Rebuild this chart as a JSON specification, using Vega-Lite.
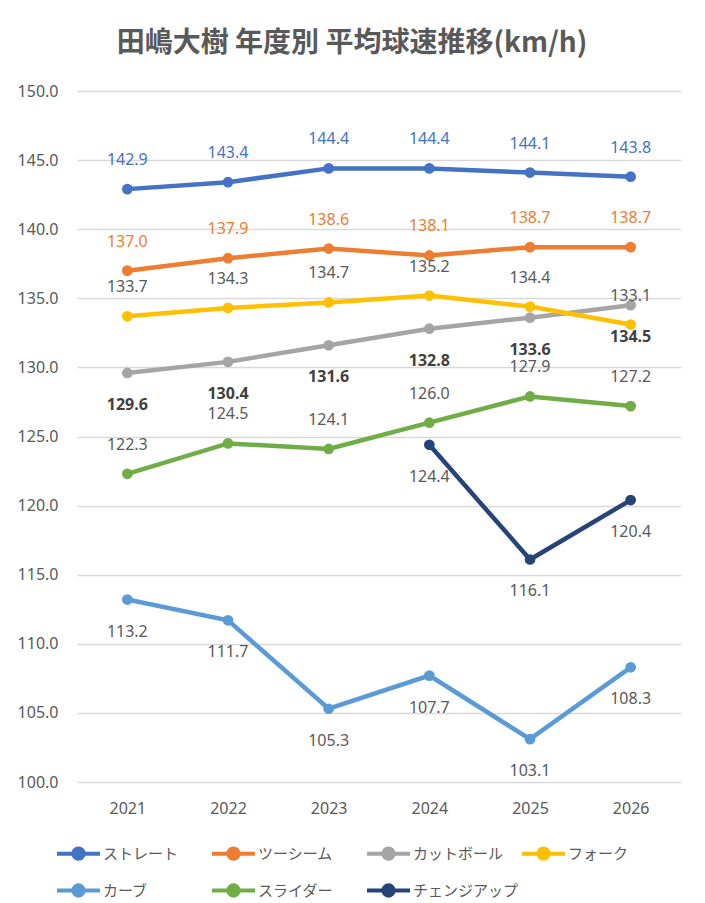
{
  "$schema": "https://vega.github.io/schema/vega-lite/v6.json",
  "autosize": "none",
  "width": 604,
  "height": 691,
  "padding": {"left": 77, "top": 91, "right": 24, "bottom": 121},
  "background": "white",
  "title": {
    "text": "田嶋大樹 年度別 平均球速推移(km/h)",
    "font": "Noto Sans CJK JP",
    "fontSize": 28,
    "fontWeight": "bold",
    "color": "#595959",
    "anchor": "middle",
    "dx": -27,
    "offset": 25
  },
  "data": {
    "values": [
      {"year": "2021", "type": "ストレート", "v": 142.9},
      {"year": "2022", "type": "ストレート", "v": 143.4},
      {"year": "2023", "type": "ストレート", "v": 144.4},
      {"year": "2024", "type": "ストレート", "v": 144.4},
      {"year": "2025", "type": "ストレート", "v": 144.1},
      {"year": "2026", "type": "ストレート", "v": 143.8},
      {"year": "2021", "type": "ツーシーム", "v": 137.0},
      {"year": "2022", "type": "ツーシーム", "v": 137.9},
      {"year": "2023", "type": "ツーシーム", "v": 138.6},
      {"year": "2024", "type": "ツーシーム", "v": 138.1},
      {"year": "2025", "type": "ツーシーム", "v": 138.7},
      {"year": "2026", "type": "ツーシーム", "v": 138.7},
      {"year": "2021", "type": "カットボール", "v": 129.6},
      {"year": "2022", "type": "カットボール", "v": 130.4},
      {"year": "2023", "type": "カットボール", "v": 131.6},
      {"year": "2024", "type": "カットボール", "v": 132.8},
      {"year": "2025", "type": "カットボール", "v": 133.6},
      {"year": "2026", "type": "カットボール", "v": 134.5},
      {"year": "2021", "type": "フォーク", "v": 133.7},
      {"year": "2022", "type": "フォーク", "v": 134.3},
      {"year": "2023", "type": "フォーク", "v": 134.7},
      {"year": "2024", "type": "フォーク", "v": 135.2},
      {"year": "2025", "type": "フォーク", "v": 134.4},
      {"year": "2026", "type": "フォーク", "v": 133.1},
      {"year": "2021", "type": "カーブ", "v": 113.2},
      {"year": "2022", "type": "カーブ", "v": 111.7},
      {"year": "2023", "type": "カーブ", "v": 105.3},
      {"year": "2024", "type": "カーブ", "v": 107.7},
      {"year": "2025", "type": "カーブ", "v": 103.1},
      {"year": "2026", "type": "カーブ", "v": 108.3},
      {"year": "2021", "type": "スライダー", "v": 122.3},
      {"year": "2022", "type": "スライダー", "v": 124.5},
      {"year": "2023", "type": "スライダー", "v": 124.1},
      {"year": "2024", "type": "スライダー", "v": 126.0},
      {"year": "2025", "type": "スライダー", "v": 127.9},
      {"year": "2026", "type": "スライダー", "v": 127.2},
      {"year": "2024", "type": "チェンジアップ", "v": 124.4},
      {"year": "2025", "type": "チェンジアップ", "v": 116.1},
      {"year": "2026", "type": "チェンジアップ", "v": 120.4}
    ]
  },
  "encoding": {
    "x": {
      "field": "year",
      "type": "ordinal",
      "title": null,
      "scale": {"type": "point", "padding": 0.5},
      "axis": {
        "labelAngle": 0,
        "domain": false,
        "ticks": false,
        "grid": false,
        "labelFont": "Noto Sans",
        "labelFontSize": 16,
        "labelColor": "#595959",
        "labelPadding": 18
      }
    },
    "y": {
      "field": "v",
      "type": "quantitative",
      "title": null,
      "scale": {"domain": [100, 150], "nice": false, "zero": false},
      "axis": {
        "values": [100, 105, 110, 115, 120, 125, 130, 135, 140, 145, 150],
        "format": ".1f",
        "domain": false,
        "ticks": false,
        "grid": true,
        "gridColor": "#d9d9d9",
        "gridWidth": 1.3,
        "labelFont": "Noto Sans",
        "labelFontSize": 16,
        "labelColor": "#595959",
        "labelPadding": 19
      }
    }
  },
  "layer": [
    {
      "mark": {
        "type": "line",
        "strokeWidth": 4.5,
        "point": {"filled": true, "size": 115}
      },
      "encoding": {
        "color": {
          "field": "type",
          "type": "nominal",
          "scale": {
            "domain": ["ストレート", "ツーシーム", "カットボール", "フォーク", "カーブ", "スライダー", "チェンジアップ"],
            "range": ["#4472C4", "#ED7D31", "#A5A5A5", "#FFC000", "#5B9BD5", "#70AD47", "#264478"]
          },
          "legend": {
            "title": null,
            "orient": "none",
            "legendX": -22,
            "legendY": 739,
            "direction": "horizontal",
            "columns": 4,
            "gridAlign": "all",
            "columnPadding": -5,
            "rowPadding": -13,
            "symbolType": "M-1,0H1M0.24,0A0.24,0.24,0,1,1,-0.24,0A0.24,0.24,0,1,1,0.24,0Z",
            "symbolSize": 1849,
            "symbolStrokeWidth": 4,
            "symbolOpacity": 1,
            "labelFont": "Noto Sans CJK JP",
            "labelFontSize": 15,
            "labelColor": "#595959",
            "labelOffset": 1,
            "encode": {
              "symbols": {
                "update": {
                  "fill": {"scale": "color", "field": "value"},
                  "stroke": {"scale": "color", "field": "value"}
                }
              }
            }
          }
        }
      }
    },
    {
      "transform": [{"filter": "datum.type === 'ストレート'"}],
      "mark": {"type": "text", "dy": -29, "font": "Noto Sans", "fontSize": 16, "color": "#4472C4"},
      "encoding": {"text": {"field": "v", "type": "quantitative", "format": ".1f"}}
    },
    {
      "transform": [{"filter": "datum.type === 'ツーシーム'"}],
      "mark": {"type": "text", "dy": -29, "font": "Noto Sans", "fontSize": 16, "color": "#ED7D31"},
      "encoding": {"text": {"field": "v", "type": "quantitative", "format": ".1f"}}
    },
    {
      "transform": [{"filter": "datum.type === 'カットボール'"}],
      "mark": {"type": "text", "dy": 32, "font": "Noto Sans", "fontSize": 16, "fontWeight": "bold", "color": "#404040"},
      "encoding": {"text": {"field": "v", "type": "quantitative", "format": ".1f"}}
    },
    {
      "transform": [{"filter": "datum.type === 'フォーク' || datum.type === 'スライダー'"}],
      "mark": {"type": "text", "dy": -29, "font": "Noto Sans", "fontSize": 16, "color": "#595959"},
      "encoding": {"text": {"field": "v", "type": "quantitative", "format": ".1f"}}
    },
    {
      "transform": [{"filter": "datum.type === 'カーブ' || datum.type === 'チェンジアップ'"}],
      "mark": {"type": "text", "dy": 32, "font": "Noto Sans", "fontSize": 16, "color": "#595959"},
      "encoding": {"text": {"field": "v", "type": "quantitative", "format": ".1f"}}
    }
  ],
  "config": {
    "view": {"stroke": null}
  }
}
